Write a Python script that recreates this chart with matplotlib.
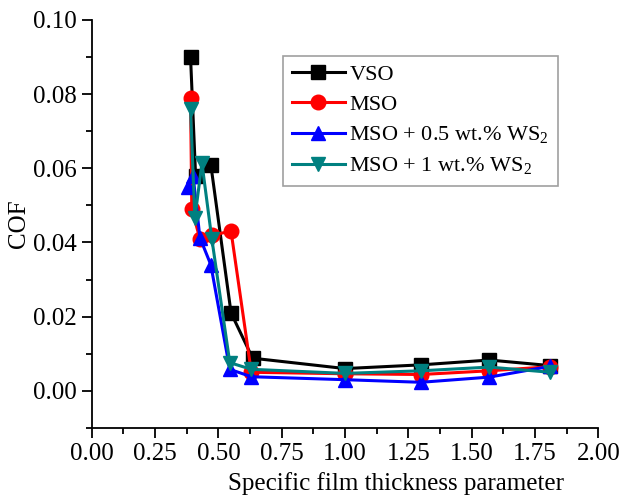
import numpy as np
import matplotlib
matplotlib.use('Agg')
import matplotlib.pyplot as plt
from matplotlib.ticker import MultipleLocator

plt.rcParams['font.family'] = ['Liberation Serif', 'DejaVu Serif']
plt.rcParams['mathtext.fontset'] = 'custom'
plt.rcParams['mathtext.rm'] = 'Liberation Serif'

# data
x_vso = [0.39, 0.41, 0.47, 0.55, 0.635, 1.0, 1.3, 1.57, 1.81]
cof_vso = [0.090, 0.058, 0.061, 0.021, 0.0088, 0.006, 0.007, 0.0083, 0.0068]

x_mso = [0.39, 0.395, 0.427, 0.474, 0.55, 0.63, 1.0, 1.3, 1.57, 1.81]
cof_mso = [0.079, 0.049, 0.041, 0.042, 0.043, 0.005, 0.0046, 0.0044, 0.0054, 0.0065]

x_ws05 = [0.38, 0.40, 0.427, 0.47, 0.545, 0.63, 1.0, 1.3, 1.57, 1.81]
cof_ws05 = [0.055, 0.058, 0.0413, 0.034, 0.0058, 0.0038, 0.003, 0.0023, 0.0037, 0.0066]

x_ws1 = [0.39, 0.407, 0.435, 0.474, 0.545, 0.63, 1.0, 1.3, 1.57, 1.81]
cof_ws1 = [0.076, 0.0465, 0.0614, 0.041, 0.0076, 0.0058, 0.0047, 0.0054, 0.0064, 0.005]

series = [
    (x_vso, cof_vso, 'VSO', 'black', 's'),
    (x_mso, cof_mso, 'MSO', '#ff0000', 'o'),
    (x_ws05, cof_ws05, r'MSO + 0.5 wt.% WS$_2$', '#0000ff', '^'),
    (x_ws1, cof_ws1, r'MSO + 1 wt.% WS$_2$', '#008080', 'v'),
]

fig = plt.figure(figsize=(6.2, 4.97), dpi=100)
ax = fig.add_axes([0.148, 0.139, 0.817, 0.821])

for x, y, lab, c, m in series:
    ax.plot(x, y, color=c, marker=m, markersize=10.5, linewidth=2.2, label=lab)

ax.set_xlim(0, 2)
ax.set_ylim(-0.01, 0.10)
ax.xaxis.set_major_locator(MultipleLocator(0.25))
ax.xaxis.set_minor_locator(MultipleLocator(0.125))
ax.yaxis.set_major_locator(MultipleLocator(0.02))
ax.yaxis.set_minor_locator(MultipleLocator(0.01))
ax.set_yticks(np.arange(0, 0.101, 0.02))
ax.xaxis.set_major_formatter(plt.FormatStrFormatter('%.2f'))
ax.yaxis.set_major_formatter(plt.FormatStrFormatter('%.2f'))
ax.tick_params(which='major', direction='out', length=7, width=1.3, labelsize=18, pad=4)
ax.tick_params(which='minor', direction='out', length=4, width=1.3)
ax.spines['top'].set_visible(False)
ax.spines['right'].set_visible(False)
ax.spines['left'].set_linewidth(1.3)
ax.spines['bottom'].set_linewidth(1.3)

ax.set_xlabel('Specific film thickness parameter', fontsize=18, va='top')
ax.xaxis.set_label_coords(0.6, -0.108)
ax.set_ylabel('COF', fontsize=18, labelpad=2)

leg = ax.legend(loc='upper left', bbox_to_anchor=(0.377, 0.912), fontsize=16,
                frameon=True, fancybox=False, handlelength=2.4, handletextpad=0.2,
                borderpad=0.4, borderaxespad=0, labelspacing=0.42)
leg.get_frame().set_edgecolor('#888888')
leg.get_frame().set_linewidth(1.2)

fig.savefig('out.png', dpi=100)
